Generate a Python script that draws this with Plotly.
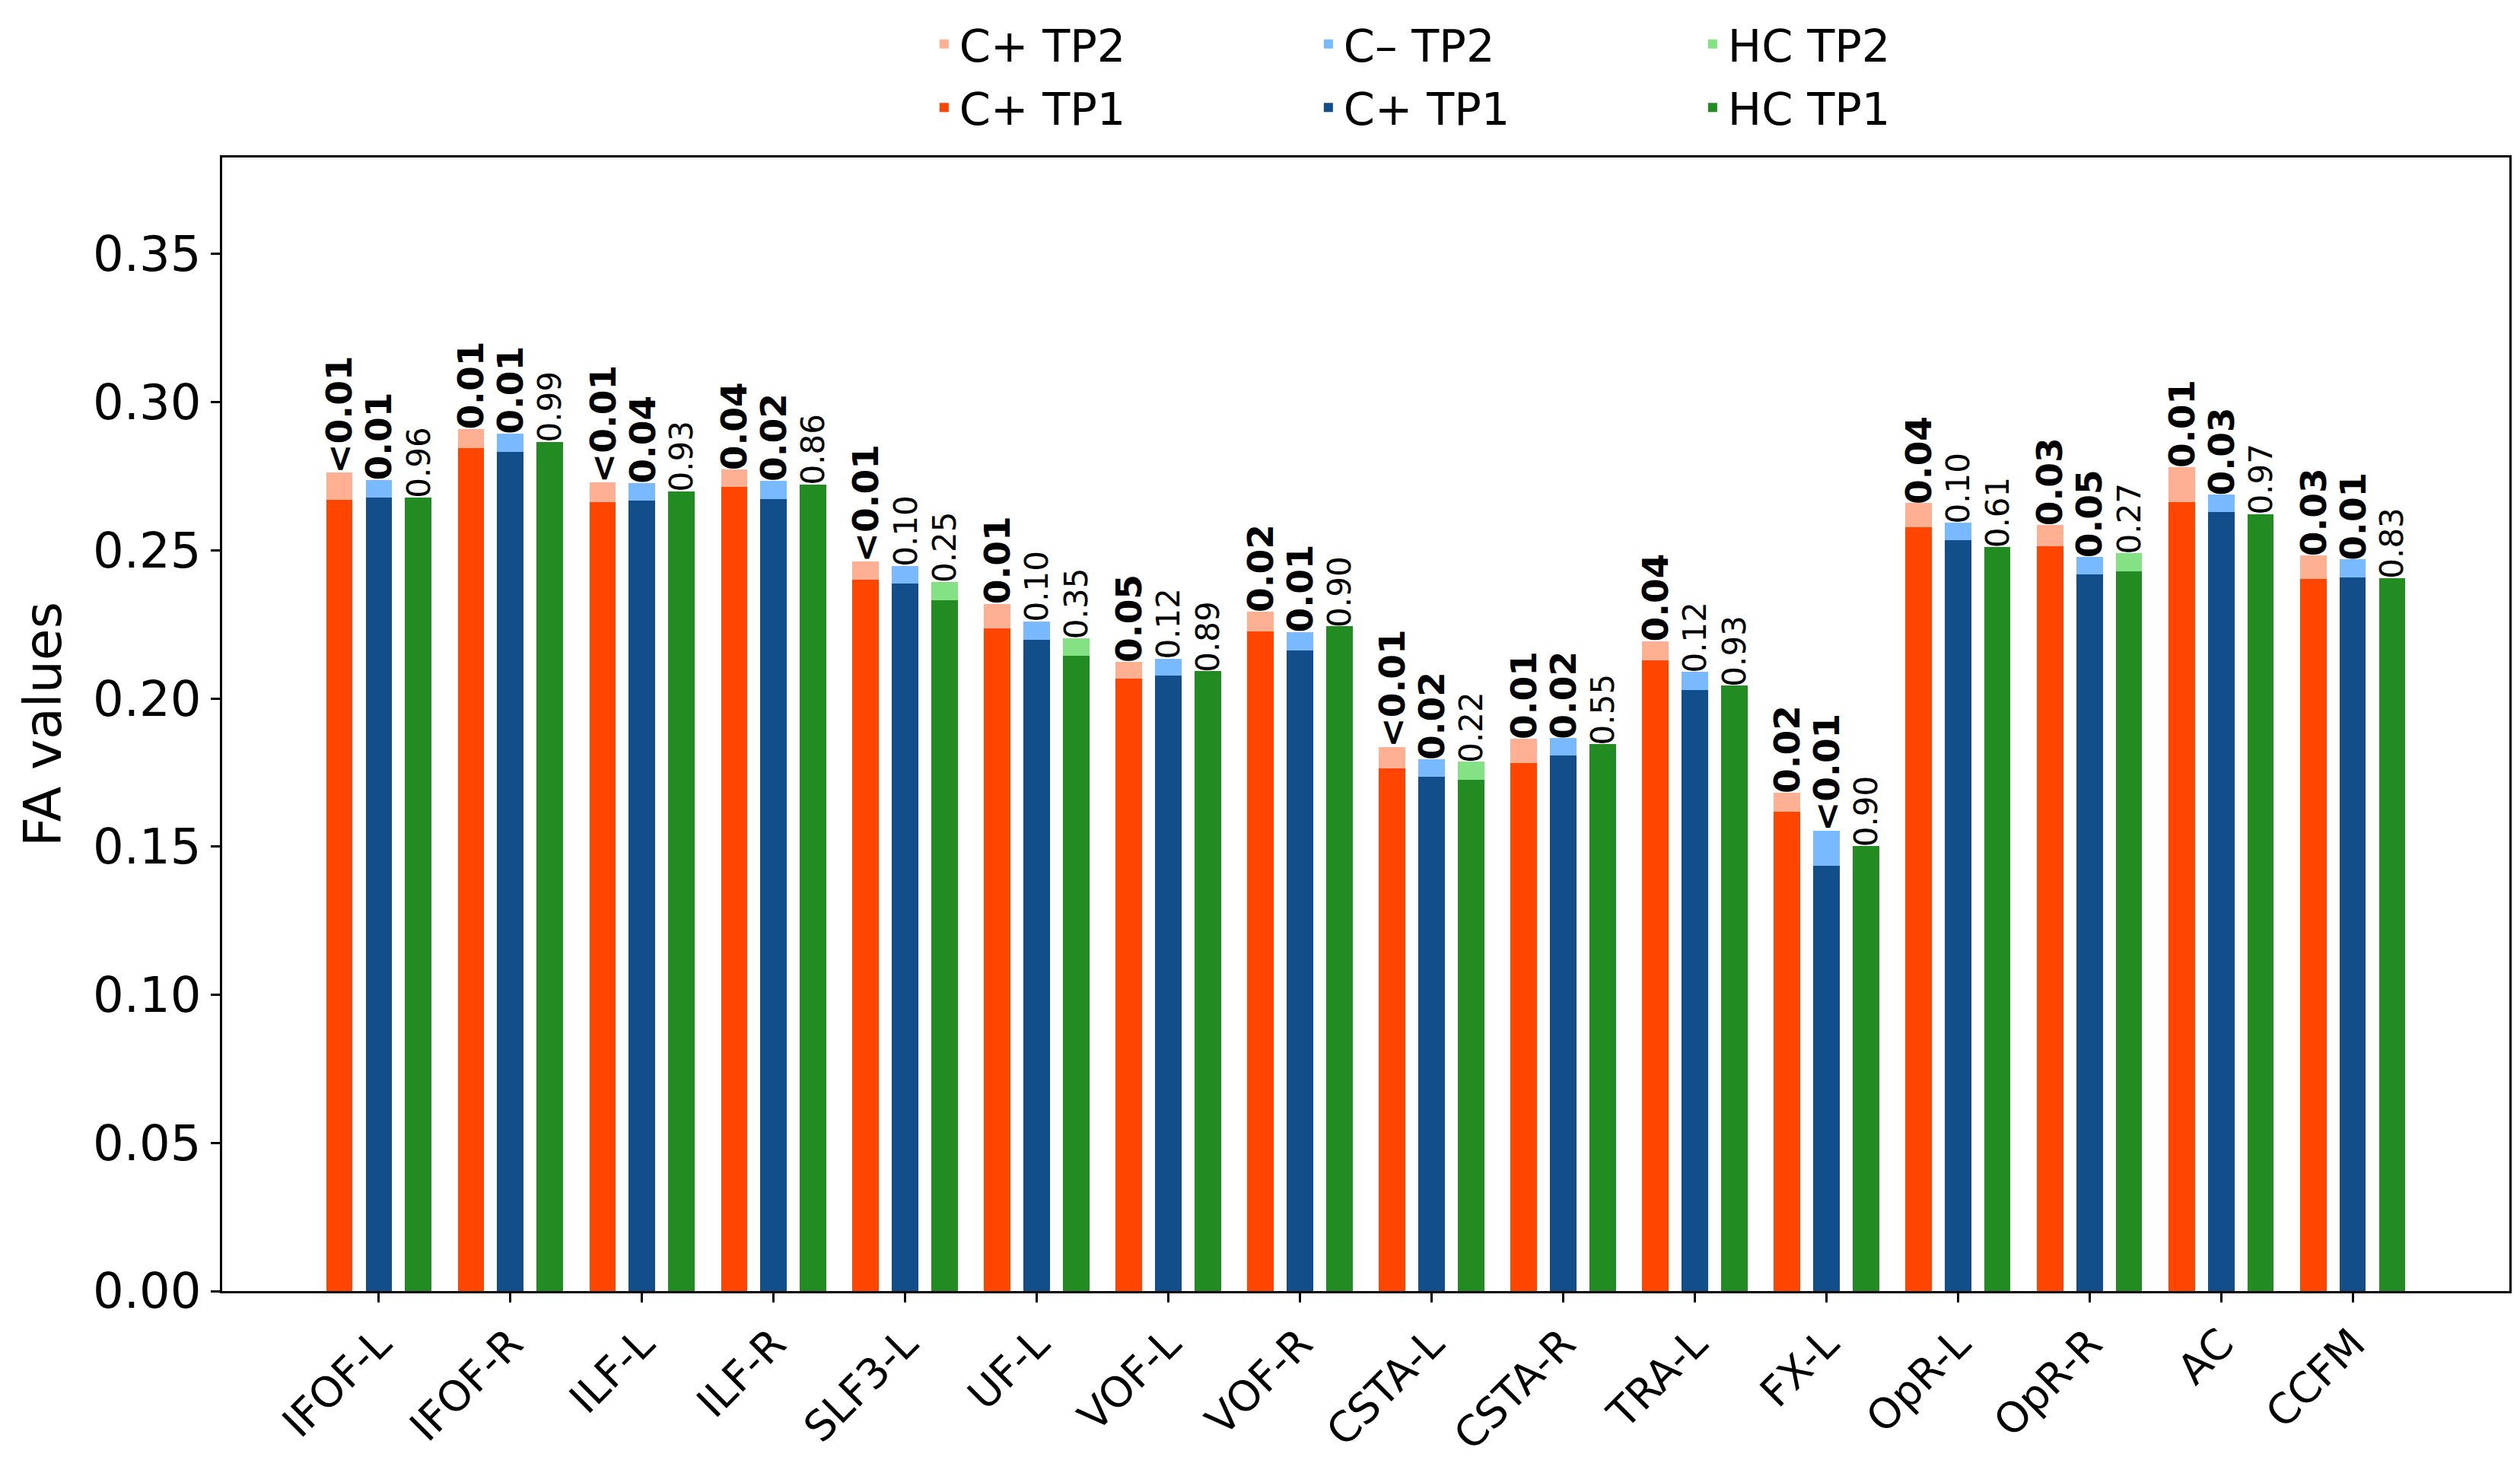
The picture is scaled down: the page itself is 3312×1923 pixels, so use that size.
import numpy as np
import plotly.graph_objects as go

categories = ["IFOF-L", "IFOF-R", "ILF-L", "ILF-R", "SLF3-L", "UF-L", "VOF-L", "VOF-R",
              "CSTA-L", "CSTA-R", "TRA-L", "FX-L", "OpR-L", "OpR-R", "AC", "CCFM"]

cpos_tp1 = [0.2670, 0.2846, 0.2663, 0.2714, 0.2401, 0.2236, 0.2067, 0.2226,
            0.1765, 0.1781, 0.2128, 0.1617, 0.2578, 0.2515, 0.2662, 0.2404]
cpos_tp2 = [0.2762, 0.2910, 0.2730, 0.2772, 0.2462, 0.2320, 0.2123, 0.2292,
            0.1837, 0.1863, 0.2193, 0.1683, 0.2659, 0.2586, 0.2782, 0.2483]

cneg_tp1 = [0.2678, 0.2833, 0.2668, 0.2673, 0.2389, 0.2199, 0.2077, 0.2163,
            0.1735, 0.1808, 0.2029, 0.1435, 0.2535, 0.2419, 0.2630, 0.2409]
cneg_tp2 = [0.2738, 0.2894, 0.2727, 0.2734, 0.2447, 0.2260, 0.2134, 0.2224,
            0.1796, 0.1866, 0.2090, 0.1553, 0.2593, 0.2478, 0.2688, 0.2469]

hc_tp1 = [0.2678, 0.2866, 0.2699, 0.2722, 0.2332, 0.2143, 0.2092, 0.2243,
          0.1726, 0.1846, 0.2043, 0.1502, 0.2511, 0.2430, 0.2623, 0.2407]
hc_tp2 = [None, None, None, None, 0.2392, 0.2204, None, None,
          0.1786, None, None, None, None, 0.2490, None, None]

cpos_p = ["<0.01", "0.01", "<0.01", "0.04", "<0.01", "0.01", "0.05", "0.02",
          "<0.01", "0.01", "0.04", "0.02", "0.04", "0.03", "0.01", "0.03"]
cneg_p = ["0.01", "0.01", "0.04", "0.02", "0.10", "0.10", "0.12", "0.01",
          "0.02", "0.02", "0.12", "<0.01", "0.10", "0.05", "0.03", "0.01"]
hc_p = ["0.96", "0.99", "0.93", "0.86", "0.25", "0.35", "0.89", "0.90",
        "0.22", "0.55", "0.93", "0.90", "0.61", "0.27", "0.97", "0.83"]

legend_tp2 = ["C+ TP2", "C\u2013 TP2", "HC TP2"]
legend_tp1 = ["C+ TP1", "C+ TP1", "HC TP1"]

col_tp1 = ["#FF4500", "#124E89", "#228B22"]
col_tp2 = ["#FFAF92", "#78B9FF", "#84E184"]

FONT = "DejaVu Sans"
idx = np.arange(len(categories))
offsets = [-0.3, 0.0, 0.3]
bar_w = 0.2

groups = [
    (cpos_tp1, cpos_tp2, cpos_p),
    (cneg_tp1, cneg_tp2, cneg_p),
    (hc_tp1, hc_tp2, hc_p),
]

fig = go.Figure()

# TP2 bars first (behind)
for g, (t1, t2, p) in enumerate(groups):
    fig.add_trace(go.Bar(
        x=idx + offsets[g], y=t2, width=bar_w, name=legend_tp2[g],
        marker=dict(color=col_tp2[g], line=dict(width=0)), legend="legend",
    ))
# TP1 bars on top
for g, (t1, t2, p) in enumerate(groups):
    fig.add_trace(go.Bar(
        x=idx + offsets[g], y=t1, width=bar_w, name=legend_tp1[g],
        marker=dict(color=col_tp1[g], line=dict(width=0)), legend="legend2",
    ))

annotations = []
for g, (t1, t2, p) in enumerate(groups):
    for i in range(len(categories)):
        top = t1[i] if t2[i] is None else max(t1[i], t2[i])
        txt = p[i]
        val = 0.0 if txt.startswith("<") else float(txt)
        bold = val <= 0.05
        safe = txt.replace("<", "&lt;")
        annotations.append(dict(
            x=idx[i] + offsets[g], y=top, xref="x", yref="y",
            text=f"<b>{safe}</b>" if bold else safe,
            textangle=-90, showarrow=False, xanchor="center", yanchor="bottom",
            yshift=-3,
            font=dict(family=FONT, size=47 if bold else 42, color="black"),
        ))

fig.update_layout(
    width=3312, height=1923,
    margin=dict(l=284, r=22, t=199, b=234, autoexpand=False),
    paper_bgcolor="white", plot_bgcolor="white",
    barmode="overlay", bargap=0,
    font=dict(family=FONT, color="black"),
    annotations=annotations,
    legend=dict(orientation="h", x=0.561, xanchor="center", y=1.100, yanchor="middle",
                font=dict(family=FONT, size=59), entrywidth=460,
                bgcolor="rgba(0,0,0,0)", traceorder="normal"),
    legend2=dict(orientation="h", x=0.561, xanchor="center", y=1.044, yanchor="middle",
                 font=dict(family=FONT, size=59), entrywidth=460,
                 bgcolor="rgba(0,0,0,0)", traceorder="normal"),
)

fig.update_xaxes(
    range=[-1.19, 16.19], tickmode="array", tickvals=idx, ticktext=categories,
    tickangle=-45, tickfont=dict(family=FONT, size=55, color="black"),
    showline=True, linecolor="black", linewidth=2.5, mirror=True,
    ticks="outside", ticklen=12, tickwidth=2.5, tickcolor="black",
    showgrid=False, zeroline=False, automargin=False,
)
fig.update_yaxes(
    range=[0, 0.3826], tickmode="linear", tick0=0, dtick=0.05, tickformat=".2f",
    tickfont=dict(family=FONT, size=64, color="black"),
    title=dict(text="FA values", font=dict(family=FONT, size=68, color="black"), standoff=20),
    showline=True, linecolor="black", linewidth=2.5, mirror=True,
    ticks="outside", ticklen=12, tickwidth=2.5, tickcolor="black",
    showgrid=False, zeroline=False, automargin=False,
)

fig.write_html("out.html")
